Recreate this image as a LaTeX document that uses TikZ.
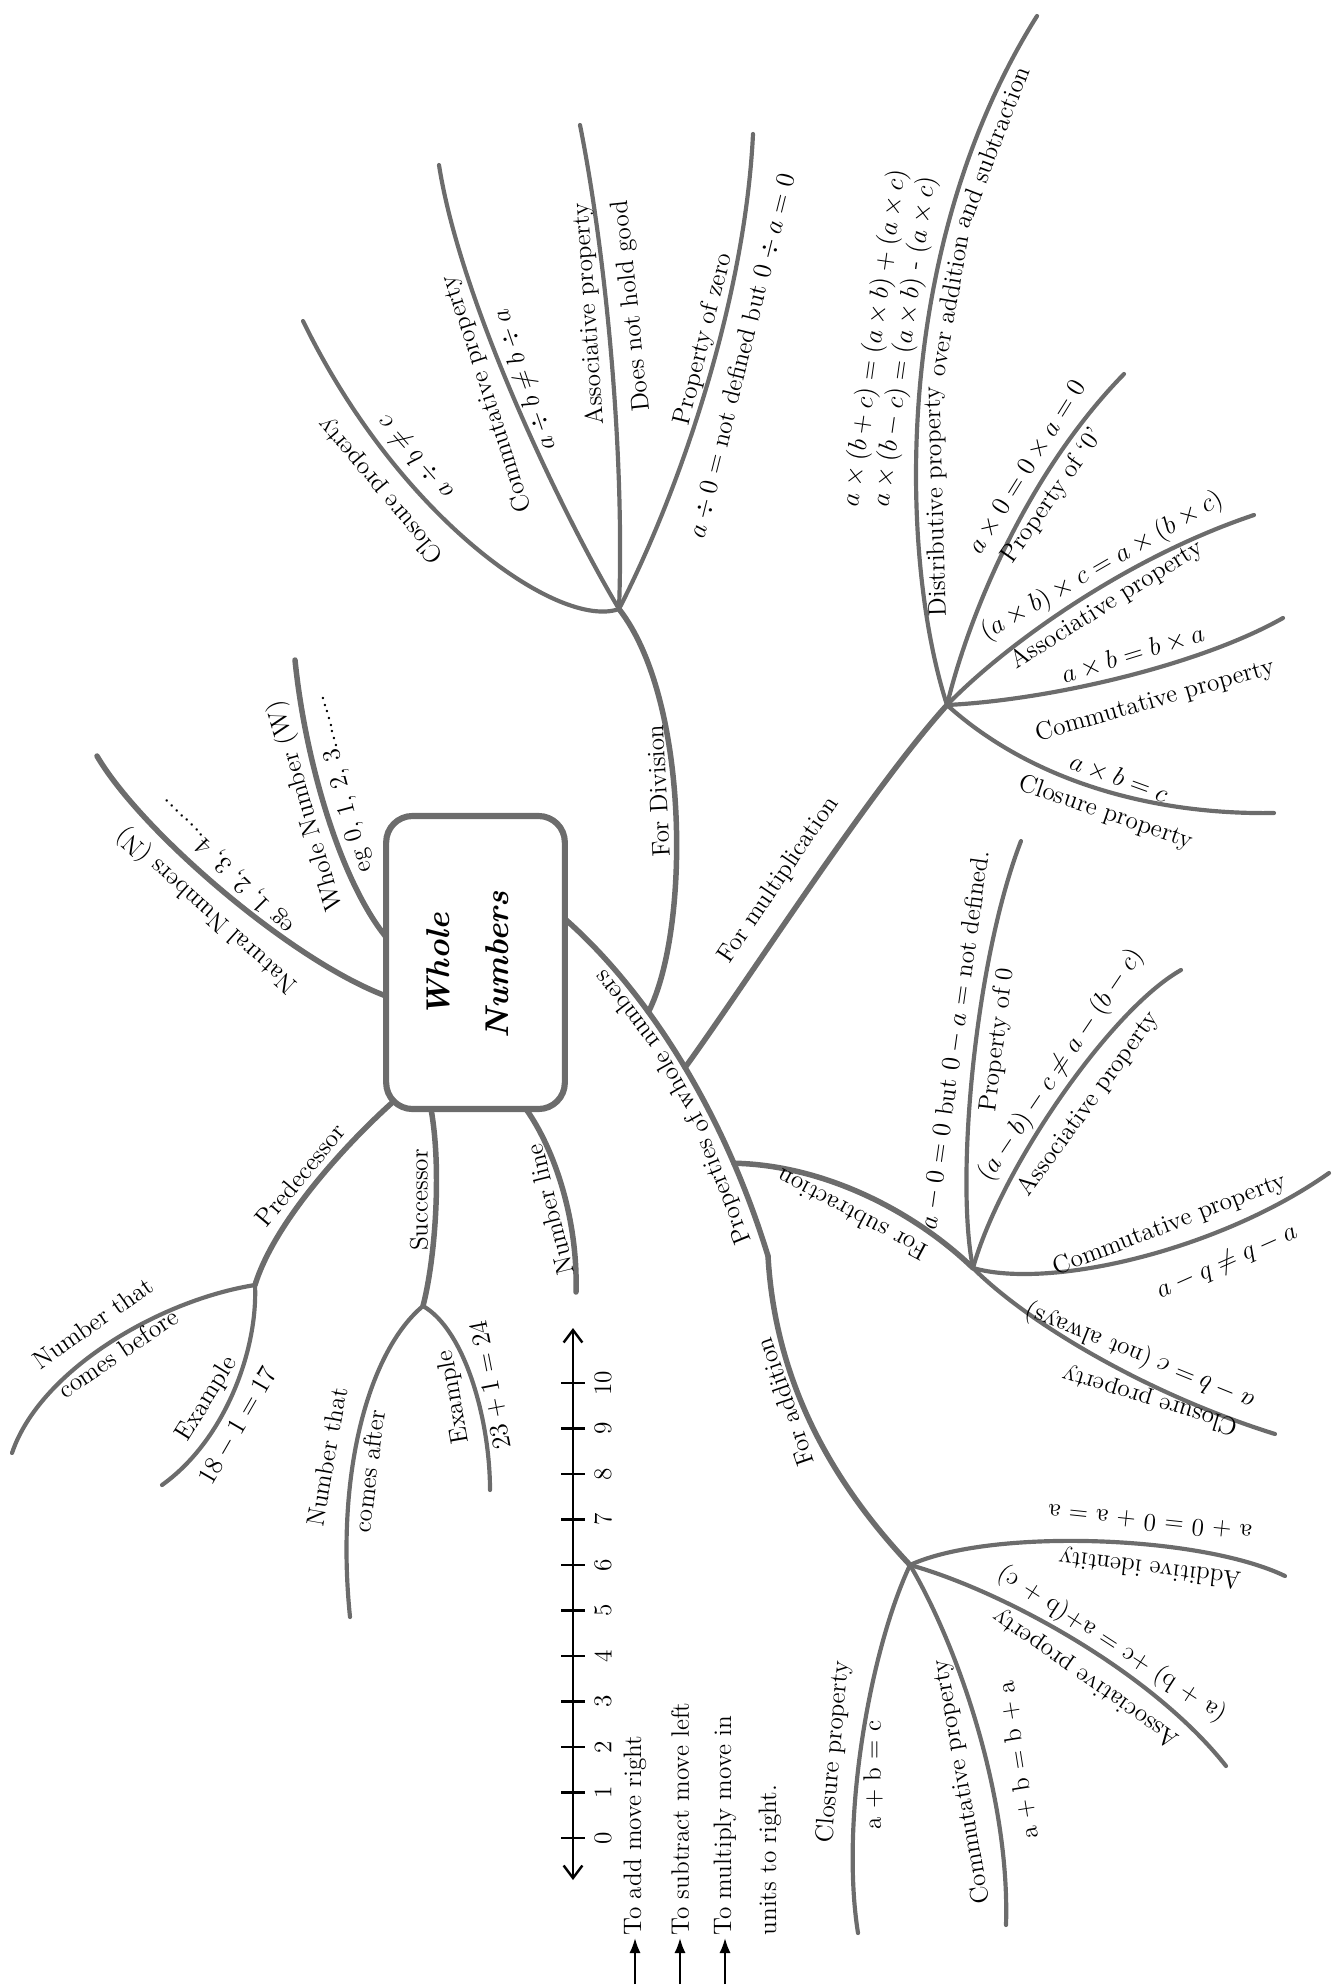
\documentclass[tikz,border=0pt]{standalone}
\usepackage{amsmath,amssymb}
\usepackage{tikz}
\usetikzlibrary{arrows.meta}
\definecolor{mapgray}{RGB}{108,108,108}
\newcommand{\lblfont}{\fontsize{11.5}{13.5}\selectfont}

\begin{document}
\begin{tikzpicture}[
  x=0.016cm, y=-0.016cm,
  every node/.style={font=\lblfont, inner sep=1pt},
  limb/.style={draw=mapgray, line width=2.5pt, line cap=round},
  twig/.style={draw=mapgray, line width=1.9pt, line cap=round},
  onlimb/.style={sloped, allow upside down},
  hubbox/.style={draw=mapgray, line width=2.8pt, rounded corners=12pt,
    minimum width=2.86cm, minimum height=4.69cm},
  numaxis/.style={line width=1.1pt,
    {Straight Barb[length=2mm,width=3mm]}-{Straight Barb[length=2mm,width=3mm]}},
  numtick/.style={line width=1.1pt},
  legarrow/.style={line width=1pt, -{Latex[length=2.4mm,width=1.8mm]}},
]
  \useasboundingbox (0,0) rectangle (1335,1988);

  \node[hubbox] (hub) at (475.5,962.5) {};
  \node[rotate=90, align=center, font=\fontsize{15}{27}\selectfont\bfseries\itshape]
    (hubtxt) at (468,965) {Whole\\Numbers};

  \coordinate (natroot)   at (386,996);
  \coordinate (nattip)    at (97,756);
  \coordinate (whroot)    at (386,937);
  \coordinate (whtip)     at (295,660);
  \coordinate (hubE)      at (565,919);
  \coordinate (bend)      at (768,1256);
  \coordinate (predroot)  at (394,1101);
  \coordinate (succroot)  at (431,1109);
  \coordinate (nlroot)    at (526,1109);
  \coordinate (nltip)     at (576,1292);

  \coordinate (divj)      at (619,609);
  \coordinate (dclotip)   at (303,321);
  \coordinate (dcomtip)   at (439,165);
  \coordinate (dasstip)   at (580,125);
  \coordinate (dzertip)   at (753,134);

  \coordinate (mulj)      at (947,705);
  \coordinate (mdistip)   at (1037,16);
  \coordinate (mzertip)   at (1124,374);
  \coordinate (masstip)   at (1254,515);
  \coordinate (mcomtip)   at (1283,618);
  \coordinate (mclotip)   at (1274,813);

  \coordinate (subj)      at (973,1268);
  \coordinate (szertip)   at (1021,841);
  \coordinate (sasstip)   at (1181,970);
  \coordinate (scomtip)   at (1329,1173);
  \coordinate (sclotip)   at (1275,1434);

  \coordinate (addj)      at (910,1565);
  \coordinate (aidtip)    at (1285,1576);
  \coordinate (aasstip)   at (1226,1766);
  \coordinate (acomtip)   at (1006,1925);
  \coordinate (aclotip)   at (858,1933);

  \coordinate (predj)     at (255,1285);
  \coordinate (pbeftip)   at (12,1453);
  \coordinate (pextip)    at (162,1485);
  \coordinate (succj)     at (423,1306);
  \coordinate (saftip)    at (350,1617);
  \coordinate (sextip)    at (490,1490);

  \draw[limb] (natroot) .. controls (290,960) and (140,830) .. (nattip);
  \draw[limb] (whroot) .. controls (340,880) and (305,760) .. (whtip);
  \draw[limb] (bend) .. controls (720,1100) and (640,985) ..
    node[onlimb, above=1.5pt, pos=0.16] (trk1) {Properties}
    node[onlimb, above=1.5pt, pos=0.41] (trk2) {of whole}
    node[onlimb, above=1.5pt, pos=0.67] (trk3) {numbers}
    coordinate[pos=0.21] (subroot) coordinate[pos=0.46] (multroot)
    coordinate[pos=0.63] (divroot) (hubE);
  \draw[limb] (addj) .. controls (830,1480) and (775,1380) .. (bend);
  \draw[limb] (divroot) .. controls (690,930) and (690,700) .. (divj);
  \draw[limb] (multroot) .. controls (745,985) and (870,790) .. (mulj);
  \draw[limb] (subj) .. controls (915,1212) and (825,1165) .. (subroot);

  \draw[twig] (divj) .. controls (560,630) and (400,520) .. (dclotip);
  \draw[twig] (divj) .. controls (560,510) and (460,300) .. (dcomtip);
  \draw[twig] (divj) .. controls (625,450) and (605,250) .. (dasstip);
  \draw[twig] (divj) .. controls (680,490) and (745,300) .. (dzertip);

  \draw[twig] (mulj) .. controls (900,560) and (890,250) ..
    node[onlimb, below=2pt, pos=0.35] (dist1) {Distributive property}
    node[onlimb, below=2pt, pos=0.62] (dist2) {over addition}
    node[onlimb, below=2pt, pos=0.83] (dist3) {and subtraction}
    (mdistip);
  \draw[twig] (mulj) .. controls (970,610) and (1030,470) .. (mzertip);
  \draw[twig] (mulj) .. controls (1000,650) and (1120,560) .. (masstip);
  \draw[twig] (mulj) .. controls (1050,700) and (1200,665) .. (mcomtip);
  \draw[twig] (mulj) .. controls (1030,780) and (1150,815) .. (mclotip);

  \draw[twig] (subj) .. controls (955,1180) and (975,960) .. (szertip);
  \draw[twig] (subj) .. controls (1000,1170) and (1110,1010) .. (sasstip);
  \draw[twig] (subj) .. controls (1050,1290) and (1220,1250) .. (scomtip);
  \draw[twig] (subj) .. controls (1030,1325) and (1150,1395) .. (sclotip);

  \draw[twig] (addj) .. controls (990,1528) and (1200,1535) .. (aidtip);
  \draw[twig] (addj) .. controls (1000,1590) and (1150,1670) .. (aasstip);
  \draw[twig] (addj) .. controls (960,1650) and (1010,1800) .. (acomtip);
  \draw[twig] (addj) .. controls (870,1650) and (840,1820) .. (aclotip);

  \draw[limb] (predroot) .. controls (350,1140) and (275,1220) .. (predj);
  \draw[twig] (predj) .. controls (160,1300) and (40,1370) .. (pbeftip);
  \draw[twig] (predj) .. controls (258,1350) and (225,1440) .. (pextip);
  \draw[limb] (succroot) .. controls (442,1170) and (435,1260) .. (succj);
  \draw[twig] (succj) .. controls (370,1350) and (335,1470) .. (saftip);
  \draw[twig] (succj) .. controls (465,1330) and (490,1420) .. (sextip);
  \draw[limb] (nlroot) .. controls (555,1150) and (578,1220) .. (nltip);

  \node[rotate=138] (natlbl) at (207,910) {Natural Numbers (N)};
  \node[rotate=135] (nateg)  at (226,866) {eg 1, 2, 3, 4........};
  \node[rotate=106] (whlbl)  at (306,806) {Whole Number (W)};
  \node[rotate=105] (wheg)   at (342,784) {eg 0, 1, 2, 3........};

  \node[rotate=93]  (divlbl)  at (658,791) {For Division};
  \node[rotate=130] (dclolbl) at (381,490) {Closure property};
  \node[rotate=131] (dclofx)  at (416,457) {$a \div b \neq c$};
  \node[rotate=108] (dcomlbl) at (487,394) {Commutative property};
  \node[rotate=109] (dcomfx)  at (525,380) {$a \div b \neq b \div a$};
  \node[rotate=94]  (dasslbl) at (589,314) {Associative property};
  \node[rotate=96]  (dassno)  at (632,306) {Does not hold good};
  \node[rotate=76]  (dzerlbl) at (704,339) {Property of zero};
  \node[rotate=76]  (dzerfx)  at (742,356) {$a \div 0 =$ not defined but $0 \div a = 0$};

  \node[rotate=56]  (multlbl) at (779,880) {For multiplication};
  \node[rotate=82]  (mdisfxa) at (875,338) {$a\times(b+c)=(a\times b)+(a\times c)$};
  \node[rotate=82]  (mdisfxb) at (905,342) {$a\times(b-c)=(a\times b)$ - $(a\times c)$};
  \node[rotate=58]  (mzerfx)  at (1027,467) {$a\times 0=0\times a=0$};
  \node[rotate=55]  (mzerlbl) at (1053,496) {Property of `0'};
  \node[rotate=30]  (massfx)  at (1102,566) {$(a\times b)\times c=a\times(b\times c)$};
  \node[rotate=32]  (masslbl) at (1107,605) {Associative property};
  \node[rotate=17]  (mcomfx)  at (1133,654) {$a\times b=b\times a$};
  \node[rotate=16]  (mcomlbl) at (1155,701) {Commutative property};
  \node[rotate=-20] (mclofx)  at (1119,778) {$a\times b=c$};
  \node[rotate=-19] (mclolbl) at (1106,813) {Closure property};

  \node[rotate=152] (sublbl)  at (852,1215) {For subtraction};
  \node[rotate=82]  (szerfx)  at (955,1040) {$a-0=0$ but $0-a=$ not defined.};
  \node[rotate=83]  (szerlbl) at (998,1040) {Property of 0};
  \node[rotate=56]  (sassfx)  at (1061,1065) {$(a-b)-c\neq a-(b-c)$};
  \node[rotate=54]  (sasslbl) at (1089,1104) {Associative property};
  \node[rotate=21]  (scomlbl) at (1170,1225) {Commutative property};
  \node[rotate=24]  (scomfx)  at (1227,1262) {$a-q\neq q-a$};
  \node[rotate=158] (sclofx)  at (1140,1356) {$a-b=c$ (not always)};
  \node[rotate=163] (sclolbl) at (1150,1400) {Closure property};

  \node[rotate=109] (addlbl)  at (785,1402) {For addition};
  \node[rotate=174] (aidfx)   at (1150,1522) {a + 0 = 0 + a = a};
  \node[rotate=173] (aidlbl)  at (1150,1568) {Additive identity};
  \node[rotate=147] (aassfx)  at (1112,1644) {(a + b) +c = a+(b + c)};
  \node[rotate=145] (aasslbl) at (1086,1678) {Associative property};
  \node[rotate=100] (acomlbl) at (962,1782) {Commutative property};
  \node[rotate=99]  (acomfx)  at (1018,1760) {a + b = b + a};
  \node[rotate=85]  (aclolbl) at (834,1752) {Closure property};
  \node[rotate=90]  (aclofx)  at (873,1775) {a + b = c};

  \node[rotate=50]  (predlbl) at (300,1175) {Predecessor};
  \node[rotate=35]  (pbefa)   at (93,1323) {Number that};
  \node[rotate=34]  (pbefb)   at (118,1353) {comes before};
  \node[rotate=58]  (pexlbl)  at (207,1399) {Example};
  \node[rotate=60]  (pexfx)   at (238,1426) {$18-1=17$};
  \node[rotate=90]  (succlbl) at (419,1200) {Successor};
  \node[rotate=80]  (safta)   at (327,1457) {Number that};
  \node[rotate=83]  (saftb)   at (369,1471) {comes after};
  \node[rotate=100] (sexlbl)  at (454,1397) {Example};
  \node[rotate=101] (sexfx)   at (491,1385) {$23+1=24$};
  \node[rotate=104] (nllbl)   at (550,1210) {Number line};

  \coordinate (nlbot) at (573,1880);
  \coordinate (nltop) at (573,1328);
  \draw[numaxis] (nlbot) -- (nltop);
  \foreach \k in {0,...,10} {
    \draw[numtick] (561,{1838-45.5*\k}) -- (585,{1838-45.5*\k});
    \node[rotate=90] (num\k) at (603,{1838-45.5*\k}) {\k};
  }

  \node[rotate=90, anchor=west] (lgadd)   at (635,1938) {To add move right};
  \node[rotate=90, anchor=west] (lgsub)   at (680,1938) {To subtract move left};
  \node[rotate=90, anchor=west] (lgmul)   at (725,1938) {To multiply move in};
  \node[rotate=90, anchor=west] (lgunits) at (770,1938) {units to right.};
  \coordinate (lgadd0) at (635,1984);
  \coordinate (lgsub0) at (680,1984);
  \coordinate (lgmul0) at (725,1984);
  \draw[legarrow] (lgadd0) -- (lgadd);
  \draw[legarrow] (lgsub0) -- (lgsub);
  \draw[legarrow] (lgmul0) -- (lgmul);
\end{tikzpicture}
\end{document}
